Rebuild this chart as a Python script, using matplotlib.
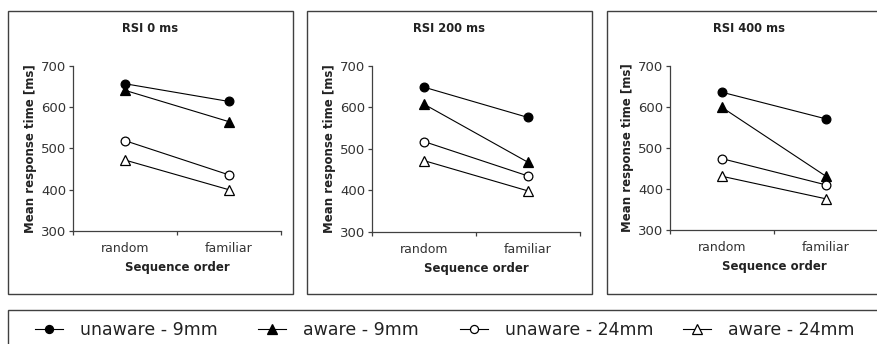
import matplotlib
matplotlib.use("Agg")
import matplotlib.pyplot as plt
from matplotlib.patches import Rectangle
from matplotlib.lines import Line2D

# ======================================================
# DATA
# ======================================================

categories = ["random", "familiar"]
panel_titles = ["RSI 0 ms", "RSI 200 ms", "RSI 400 ms"]
series_names = ["unaware - 9mm", "aware - 9mm", "unaware - 24mm", "aware - 24mm"]

unaware_9mm = [[657, 614], [649, 576], [636, 571]]
aware_9mm = [[641, 565], [608, 468], [599, 431]]
unaware_24mm = [[519, 436], [518, 435], [474, 410]]
aware_24mm = [[472, 400], [472, 399], [431, 376]]

y_ticks = [300, 400, 500, 600, 700]

# ======================================================
# STYLE
# ======================================================

plt.rcParams["font.family"] = ["DejaVu Sans"]

W, H = 878, 344
fig = plt.figure(figsize=(W / 100, H / 100), dpi=100)

series = [unaware_9mm, aware_9mm, unaware_24mm, aware_24mm]
markers = ["o", "^", "o", "^"]
faces = ["black", "black", "white", "white"]
msizes = [6.3, 7, 6.3, 7]

# panel boxes in pixels
box_x = [(8, 293), (307, 592), (607, 892)]
ax_left = [73, 372, 670]
ax_bottom = [231, 232, 230]
ax_top = 66
box_top, box_bottom = 11, 294

edge = "#404040"

for i in range(3):
    # panel frame
    x0, x1 = box_x[i]
    fig.patches.append(Rectangle((x0 / W, 1 - box_bottom / H), (x1 - x0) / W,
                                 (box_bottom - box_top) / H,
                                 transform=fig.transFigure, fill=False,
                                 edgecolor=edge, linewidth=1.0))
    fig.text((x0 + x1) / 2 / W, 1 - 28 / H, panel_titles[i],
             ha="center", va="center", fontsize=8.3, fontweight="bold",
             color="#222222")

    ax = fig.add_axes([ax_left[i] / W, 1 - ax_bottom[i] / H, 208 / W,
                       (ax_bottom[i] - ax_top) / H])
    for s, m, fc, ms in zip(series, markers, faces, msizes):
        ax.plot([0, 1], s[i], color="black", linewidth=0.8, marker=m,
                markerfacecolor=fc, markeredgecolor="black",
                markeredgewidth=0.9, markersize=ms, clip_on=False)

    ax.set_xlim(-0.5, 1.5)
    ax.set_ylim(300, 700)
    ax.set_yticks(y_ticks)
    ax.set_xticks([-0.5, 0.5, 1.5])
    ax.set_xticklabels([])
    ax.set_xticks([0, 1], minor=True)
    ax.set_xticklabels(categories, minor=True)
    ax.tick_params(axis="x", which="minor", length=0, pad=8,
                   labelsize=9, labelcolor="#333333")
    ax.tick_params(axis="x", which="major", length=3, width=0.9, color=edge)
    ax.tick_params(axis="y", length=3, width=0.9, color=edge, pad=2,
                   labelsize=9.5, labelcolor="#333333")
    for side in ["top", "right"]:
        ax.spines[side].set_visible(False)
    for side in ["left", "bottom"]:
        ax.spines[side].set_color(edge)
        ax.spines[side].set_linewidth(0.9)
    ax.patch.set_alpha(0)

    ax.set_xlabel("Sequence order", fontsize=8.5, fontweight="bold",
                  color="#222222", labelpad=4)
    ax.set_ylabel("Mean response time [ms]", fontsize=8.5, fontweight="bold",
                  color="#222222", labelpad=3)

# ======================================================
# LEGEND
# ======================================================

fig.patches.append(Rectangle((8 / W, -0.2), 1, (1 - 310 / H) + 0.2,
                             transform=fig.transFigure, fill=False,
                             edgecolor=edge, linewidth=1.0))

legend_x = [35, 258, 460, 683]
for name, m, fc, ms, lx in zip(series_names, markers, faces, msizes, legend_x):
    h = Line2D([], [], color="black", linewidth=0.8, marker=m,
               markerfacecolor=fc, markeredgecolor="black",
               markeredgewidth=0.9, markersize=ms - 0.5)
    leg = fig.legend([h], [name], loc="center left",
                     bbox_to_anchor=(lx / W, 1 - 330 / H), frameon=False,
                     fontsize=12.5, handlelength=1.6, handletextpad=1.0,
                     borderpad=0, borderaxespad=0, labelcolor="#222222")

fig.savefig("out.png", dpi=100)
